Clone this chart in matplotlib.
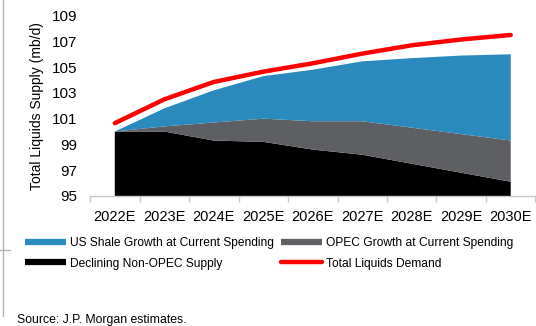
import matplotlib
matplotlib.use("Agg")
import matplotlib.pyplot as plt
import matplotlib.patheffects as pe
from matplotlib.lines import Line2D
import numpy as np

plt.rcParams['font.family'] = ['Liberation Sans', 'DejaVu Sans']

years = ['2022E', '2023E', '2024E', '2025E', '2026E', '2027E', '2028E', '2029E', '2030E']
non_opec = [100.0, 100.0, 99.3, 99.2, 98.6, 98.2, 97.5, 96.8, 96.1]
opec_growth = [0.0, 0.4, 1.4, 1.8, 2.2, 2.6, 2.8, 3.0, 3.2]
shale_growth = [0.0, 1.4, 2.5, 3.3, 4.0, 4.65, 5.4, 6.1, 6.7]
demand = [100.65, 102.5, 103.85, 104.65, 105.3, 106.05, 106.7, 107.15, 107.5]

c_shale = '#2a8abd'
c_opec = '#5e5f63'
c_nonopec = '#000000'
c_demand = '#ff0000'

x = np.arange(len(years))

fig = plt.figure(figsize=(5.36, 3.26), dpi=100)
ax = fig.add_axes([0.168, 0.399, 0.831, 0.553])

ax.stackplot(x, non_opec, opec_growth, shale_growth,
             colors=[c_nonopec, c_opec, c_shale], baseline='zero', linewidth=0)
ax.plot(x, demand, color=c_demand, lw=3.2, solid_capstyle='round',
        path_effects=[pe.Stroke(linewidth=5.5, foreground='white'), pe.Normal()])

ax.set_xlim(-0.5, 8.5)
ax.set_ylim(95, 109)
ax.set_yticks(np.arange(95, 110, 2))
ax.set_xticks(x)
ax.set_xticklabels(years)
ax.set_xticks(np.arange(-0.5, 9, 1), minor=True)

for s in ['top', 'right', 'left']:
    ax.spines[s].set_visible(False)
ax.spines['bottom'].set_color('#c8c8c8')
ax.spines['bottom'].set_linewidth(1.0)

ax.tick_params(axis='y', length=0, pad=9, labelsize=11, colors='#000000')
ax.tick_params(axis='x', which='major', length=0, pad=10, labelsize=10.5)
ax.tick_params(axis='x', which='minor', length=4, color='#c8c8c8', width=1)

ax.set_ylabel('Total Liquids Supply (mb/d)', fontsize=10, labelpad=6)

handles = [
    Line2D([0], [0], color=c_shale, lw=4.5, solid_capstyle='butt'),
    Line2D([0], [0], color=c_nonopec, lw=4.5, solid_capstyle='butt'),
    Line2D([0], [0], color=c_opec, lw=4.5, solid_capstyle='butt'),
    Line2D([0], [0], color=c_demand, lw=3.2, solid_capstyle='round'),
]
labels = ['US Shale Growth at Current Spending', 'Declining Non-OPEC Supply',
          'OPEC Growth at Current Spending', 'Total Liquids Demand']
fig.legend(handles, labels, loc='upper left', bbox_to_anchor=(0.046, 0.273),
           ncol=2, frameon=False, fontsize=8.65,
           handlelength=3.45, handletextpad=0.3, columnspacing=0.6,
           labelspacing=0.72, borderaxespad=0, borderpad=0)

fig.text(0.032, 0.01, 'Source: J.P. Morgan estimates.', fontsize=8.8, va='baseline')

# page border fragments on the left
fig.add_artist(Line2D([0.0065, 0.0065], [0.03, 1.0], color='#b4b4b4', lw=1))
fig.add_artist(Line2D([0.0, 0.019], [0.233, 0.233], color='#b4b4b4', lw=1))

fig.savefig('out.png', dpi=100)
